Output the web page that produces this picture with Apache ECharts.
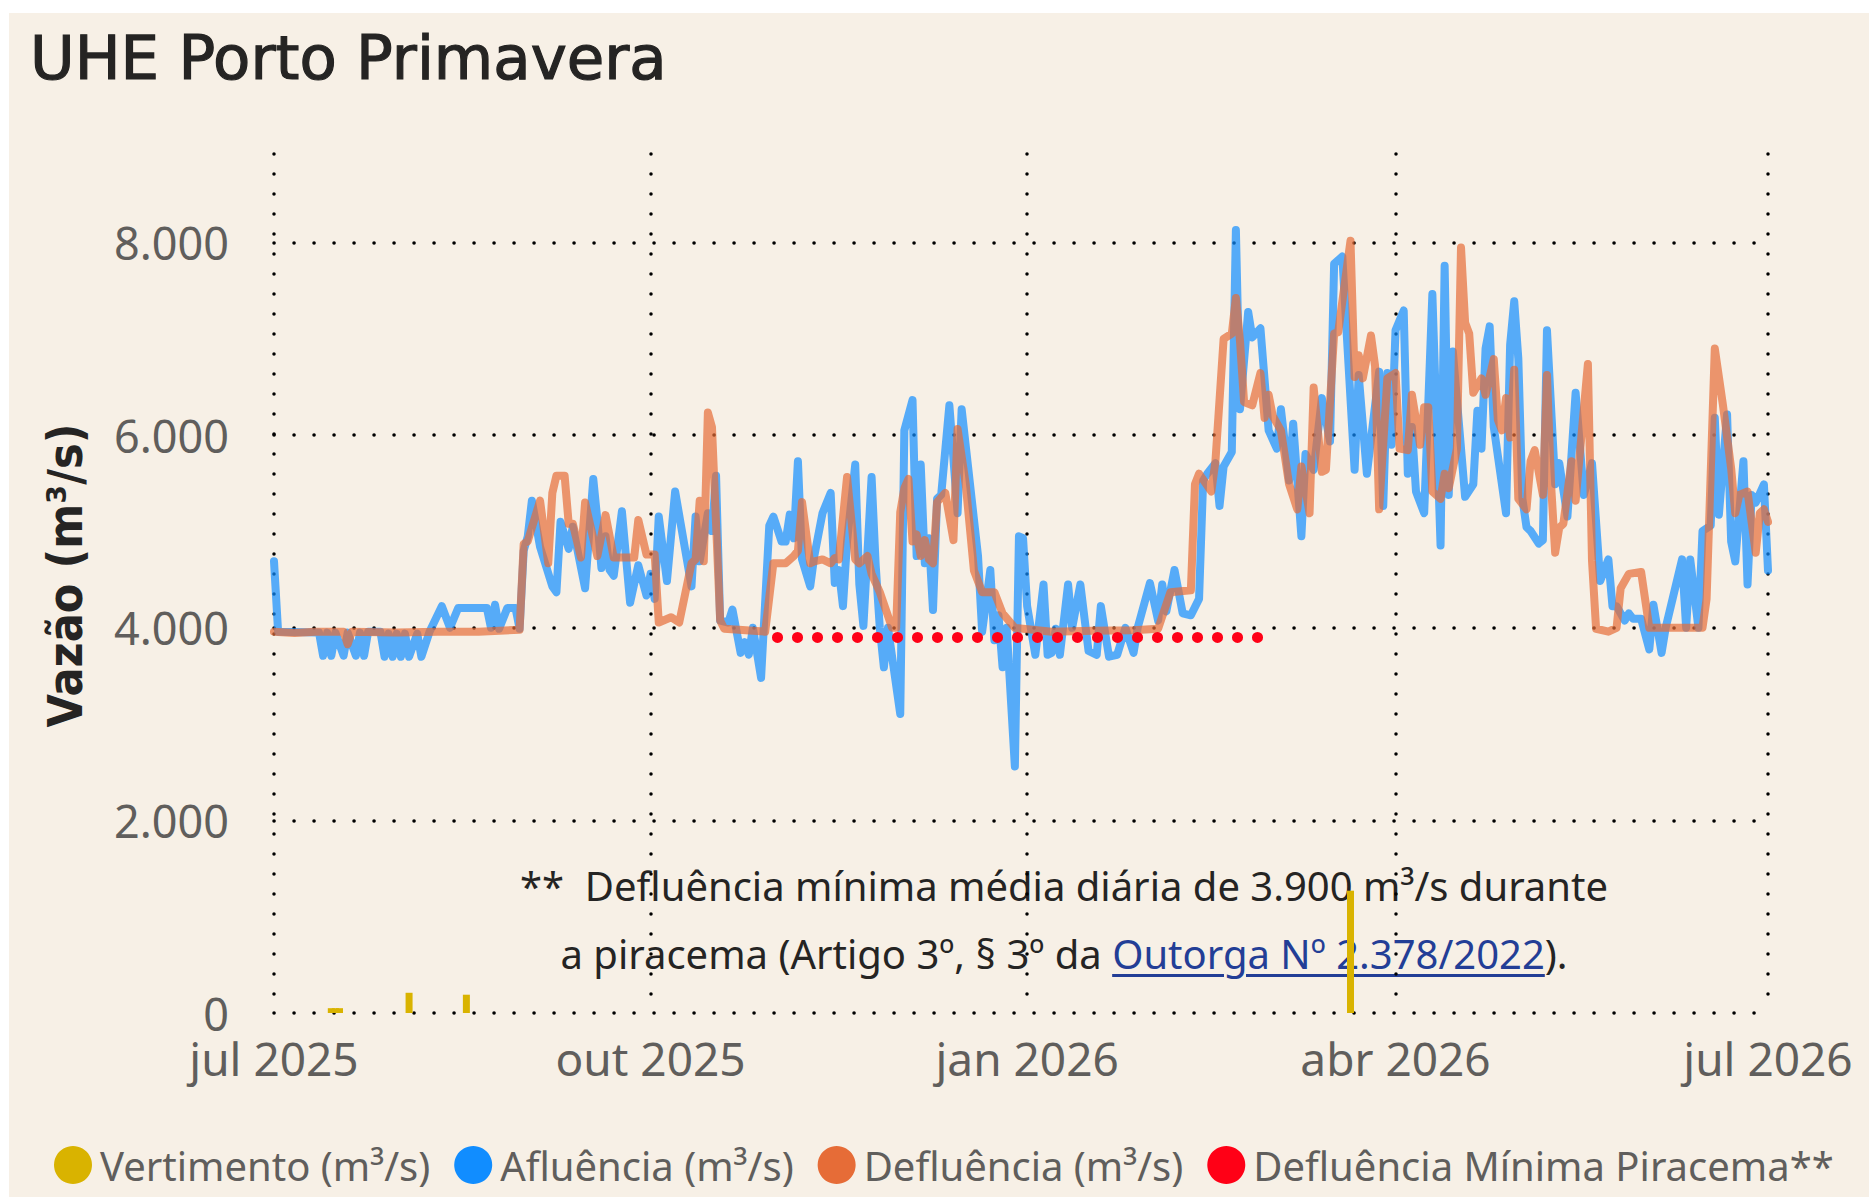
<!DOCTYPE html>
<html lang="pt-BR">
<head>
  <meta charset="utf-8">
  <title>UHE Porto Primavera</title>
  <script type="text/javascript" src="https://cdn.jsdelivr.net/npm/echarts@6/dist/echarts.min.js"></script>
  <style type="text/css">
    * {
      margin: 0;
      padding: 0;
    }
    html, body {
      width: 100%;
      height: 100%;
      overflow: hidden;
      background: #fff;
    }
    #painel {
      position: absolute;
      left: 9px;
      top: 13px;
      right: 0;
      bottom: 0;
      background: #F7F0E6;
    }
    /* nota da piracema: fica por baixo do gráfico, como no original */
    #nota {
      position: absolute;
      left: 0;
      width: 2128px;
      top: 852px;
      text-align: center;
      white-space: pre;
      font-family: 'Segoe UI', 'Noto Sans', sans-serif;
      font-size: 40px;
      line-height: 68px;
      color: #252423;
    }
    #nota a {
      color: #233E96;
      text-decoration: underline;
      text-decoration-thickness: 3px;
      text-underline-offset: 5px;
    }
    #grafico {
      position: absolute;
      left: 0;
      top: 0;
      width: 1869px;
      height: 1197px;
    }
  </style>
</head>
<body>
  <div id="painel"></div>
  <div id="nota">**  Defluência mínima média diária de 3.900 m³/s durante
a piracema (Artigo 3º, § 3º da <a>Outorga Nº 2.378/2022</a>).</div>
  <div id="grafico"></div>
  <script type="text/javascript">
    // dias contados a partir de 1 jul 2025
    var vertimentoDias = [14, 15, 16, 33, 47, 263];
    var vertimentoVals = [50, 50, 50, 210, 190, 1270];

    var afluenciaDias = [0, 1, 11, 12, 13, 14, 15, 17, 18, 20, 21, 22, 23, 26, 27, 28, 29, 30, 31, 32, 33, 35, 36, 38, 41, 43, 45, 52, 53, 54, 55, 57, 59, 60,
      61, 62, 63, 65, 68, 69, 70, 72, 73, 76, 78, 79, 80, 81, 82, 83, 85, 87, 89, 91, 92, 93, 94, 96, 98, 102, 103, 104, 106, 107, 108, 109, 111, 112,
      114, 115, 116, 117, 119, 121, 122, 124, 125, 126, 127, 128, 129, 131, 132, 134, 136, 137, 138, 139, 140, 142, 143, 144, 146, 147, 148, 149, 150,
      153, 154, 156, 157, 158, 159, 160, 161, 162, 163, 165, 167, 168, 172, 173, 175, 176, 177, 178, 179, 181, 182, 183, 184, 186, 188, 189, 190, 191,
      192, 194, 195, 197, 199, 201, 202, 204, 206, 208, 210, 211, 214, 216, 217, 218, 220, 222, 224, 226, 227, 228, 230, 231, 232, 234, 235, 236, 238,
      239, 241, 243, 245, 246, 248, 249, 251, 252, 254, 256, 258, 259, 261, 262, 264, 265, 267, 270, 271, 272, 273, 274, 276, 277, 278, 279, 281, 283,
      285, 286, 287, 288, 291, 293, 294, 295, 296, 297, 298, 301, 302, 303, 304, 305, 306, 307, 309, 310, 311, 313, 314, 316, 318, 320, 322, 324, 326,
      327, 328, 330, 331, 332, 334, 336, 337, 339, 340, 344, 345, 346, 348, 349, 351, 352, 353, 355, 356, 357, 359, 360, 361, 362, 364, 365];
    var afluenciaVals = [4690, 3960, 3950, 3710, 3950, 3710, 3950, 3710, 3950, 3710, 3950, 3710, 3960, 3960, 3700, 3940, 3700, 3940, 3700, 3940, 3700, 3940, 3700, 3960, 4225, 4000, 4205, 4205, 4000, 4240, 3990, 4205, 4205, 3990,
      4800, 4950, 5320, 4840, 4430, 4370, 5100, 4820, 5050, 4410, 5545, 5120, 4620, 4950, 4600, 4540, 5210, 4260, 4650, 4335, 4560, 4300, 5155, 4485, 5415, 4430, 5155, 4690, 5190, 5005, 5580, 4075, 4055, 4190,
      3740, 3850, 3720, 4000, 3480, 5060, 5155, 4895, 4895, 5175, 4930, 5730, 4710, 4430, 4745, 5190, 5400, 4465, 4600, 4225, 4895, 5695, 4450, 4020, 5565, 4650, 4000, 3590, 4000,
      3105, 6050, 6365, 4745, 5695, 4670, 4930, 4185, 5340, 5380, 6310, 5190, 6270, 4745, 3960, 4600, 3870, 4130, 3590, 4000, 2560, 4950, 4930, 4225, 3720, 4450, 3720, 3740, 3990,
      3720, 4450, 4000, 4450, 3760, 3720, 4225, 3700, 3720, 4000, 3740, 4000, 4465, 4075, 4450, 4170, 4600, 4150, 4130, 4300, 5530, 5600, 5710, 5265, 5675, 5825, 8130, 6270, 7280,
      7015, 7110, 6050, 5860, 6270, 5530, 6120, 4950, 5805, 5640, 6385, 5935, 7780, 7855, 7110, 5640, 6625, 5600, 6660, 5265, 6645, 5900, 7090, 7295, 5600, 6085, 5415, 5190, 7465,
      4855, 7760, 5380, 6870, 5360, 5490, 6255, 5860, 6900, 7130, 6085, 5190, 6940, 7390, 6795, 5340, 5045, 5005, 4875, 4910, 7090, 5490, 5710, 5155, 6440, 5380, 5710, 4485, 4710,
      4225, 4225, 4075, 4150, 4095, 4095, 3775, 4240, 3740, 4000, 4710, 4000, 4710, 4000, 5005, 5060, 6180, 5175, 6215, 4895, 4690, 5730, 4450, 5380, 5300, 5490, 4595];

    var defluenciaDias = [0, 5, 10, 17, 18, 19, 30, 40, 50, 60, 61, 62, 65, 67, 68, 69, 71, 72, 73, 75, 76, 79, 81, 83, 88, 89, 91, 93, 94, 97, 99, 102, 103, 104,
      105, 106, 107, 109, 110, 120, 122, 125, 127, 128, 129, 131, 132, 134, 136, 137, 138, 140, 142, 143, 145, 146, 148, 151, 152, 153, 154, 155, 156,
      157, 158, 159, 160, 161, 162, 164, 166, 167, 169, 171, 173, 176, 178, 181, 190, 200, 210, 216, 219, 224, 225, 226, 229, 230, 232, 234, 235, 236,
      237, 239, 241, 242, 243, 244, 246, 248, 250, 251, 253, 254, 256, 257, 259, 260, 263, 264, 265, 266, 268, 269, 270, 272, 274, 275, 277, 278, 280,
      281, 282, 283, 285, 286, 287, 289, 290, 291, 292, 293, 295, 296, 298, 299, 300, 301, 302, 303, 304, 306, 307, 308, 310, 311, 312, 313, 314, 315,
      317, 318, 321, 322, 323, 326, 328, 329, 331, 334, 336, 349, 350, 352, 354, 356, 357, 358, 360, 362, 363, 364, 365];
    var defluenciaVals = [3960, 3945, 3960, 3960, 3830, 3960, 3950, 3960, 3960, 3980, 4870, 4900, 5320, 4670, 5400, 5580, 5580, 5080, 5080, 4730, 5300, 4745, 5170, 4730, 4730, 5120, 4760, 4760, 4055, 4110, 4055, 4670, 4710, 5320,
      4690, 6235, 6085, 4075, 3990, 3960, 4670, 4670, 4745, 4800, 5305, 4670, 4690, 4710, 4670, 4725, 4710, 5565, 4710, 4670, 4745, 4560, 4370, 4000, 4000, 5200, 5450, 5545, 4895,
      4970, 4745, 4910, 4710, 4670, 5305, 5400, 4910, 6065, 5490, 4595, 4370, 4370, 4150, 4000, 3960, 3970, 3975, 3990, 4370, 4390, 5490, 5600, 5415, 5730, 7000, 7055, 7425, 6980,
      6345, 6310, 6645, 6180, 6420, 6200, 6050, 5490, 5230, 5675, 5190, 6495, 5620, 5640, 7055, 7070, 8020, 6605, 6830, 6590, 7035, 6720, 5230, 6590, 6645, 5860, 5845, 6420, 5900,
      6290, 6290, 5415, 5340, 5600, 5450, 5860, 7950, 7170, 7055, 6440, 6590, 6420, 6790, 6160, 6050, 6385, 5975, 6680, 5340, 5230, 5730, 5845, 5380, 6625, 5490, 4780, 5040, 5080,
      5730, 5320, 6740, 4700, 3990, 3960, 4000, 4410, 4560, 4580, 4000, 4000, 4300, 6900, 6310, 5655, 5190, 5380, 5415, 4780, 5190, 5230, 5100];

    // piracema: 1 nov 2025 a 28 fev 2026
    var piracemaDias = [123, 242];
    var piracemaVals = [3900, 3900];

    var ticksX = [Date.UTC(2025, 6, 1), Date.UTC(2025, 9, 1), Date.UTC(2026, 0, 1), Date.UTC(2026, 3, 1), Date.UTC(2026, 6, 1)];
    var ticksY = [0, 2000, 4000, 6000, 8000];
    var meses = ['jan', 'fev', 'mar', 'abr', 'mai', 'jun', 'jul', 'ago', 'set', 'out', 'nov', 'dez'];

    function serie(dias, vals) {
      return dias.map(function (d, i) {
        return [Date.UTC(2025, 6, 1 + d), vals[i]];
      });
    }
    function milhar(v) {
      return String(v).replace(/\B(?=(\d{3})+(?!\d))/g, '.');
    }

    var pontilhado = {
      color: '#000',
      width: 3.5,
      type: [0.1, 19.9],
      cap: 'round'
    };
    var fonte = "'Segoe UI', 'Noto Sans', sans-serif";

    var option = {
      animation: false,
      backgroundColor: 'transparent',
      title: {
        text: 'UHE Porto Primavera',
        left: 30,
        top: 27,
        padding: 0,
        textStyle: {
          fontFamily: 'DejaVu Sans',
          fontSize: 61,
          fontWeight: 'normal',
          color: '#252423',
          textBorderColor: '#252423',
          textBorderWidth: 1.2
        }
      },
      legend: {
        left: 49,
        top: 1140,
        icon: 'circle',
        itemWidth: 38,
        itemHeight: 38,
        itemGap: 24,
        textStyle: {
          fontFamily: fonte,
          fontSize: 40,
          color: '#605E5C',
          padding: [0, 0, 0, 3]
        }
      },
      grid: {
        left: 274,
        right: 101,
        top: 154,
        bottom: 184
      },
      // eixo de datas em milissegundos (UTC), marcas trimestrais
      xAxis: {
        type: 'value',
        min: ticksX[0],
        max: ticksX[ticksX.length - 1],
        axisLine: { show: false },
        axisTick: { show: false, customValues: ticksX },
        axisLabel: {
          customValues: ticksX,
          margin: 22,
          fontFamily: fonte,
          fontSize: 46,
          color: '#605E5C',
          formatter: function (v) {
            var d = new Date(v);
            return meses[d.getUTCMonth()] + ' ' + d.getUTCFullYear();
          }
        },
        splitLine: { show: true, lineStyle: pontilhado }
      },
      yAxis: {
        type: 'value',
        min: 0,
        max: 8920,
        name: 'Vazão (m³/s)',
        nameLocation: 'middle',
        nameGap: 185,
        nameTextStyle: {
          fontFamily: 'DejaVu Sans Condensed',
          fontWeight: 'bold',
          fontSize: 48,
          color: '#252423',
          padding: [0, 0, 0, 16]
        },
        axisLine: { show: false },
        axisTick: { show: false, customValues: ticksY },
        axisLabel: {
          customValues: ticksY,
          margin: 45,
          fontFamily: fonte,
          fontSize: 45,
          color: '#605E5C',
          formatter: milhar
        },
        splitLine: { show: true, lineStyle: pontilhado }
      },
      series: [
        {
          name: 'Vertimento (m³/s)',
          type: 'bar',
          barWidth: 7,
          itemStyle: { color: '#D9B300' },
          data: serie(vertimentoDias, vertimentoVals)
        },
        {
          name: 'Afluência (m³/s)',
          type: 'line',
          showSymbol: false,
          itemStyle: { color: '#118DFF' },
          lineStyle: { width: 8, opacity: 0.7, join: 'round', cap: 'round' },
          data: serie(afluenciaDias, afluenciaVals)
        },
        {
          name: 'Defluência (m³/s)',
          type: 'line',
          showSymbol: false,
          itemStyle: { color: '#E66C37' },
          lineStyle: { width: 8, opacity: 0.7, join: 'round', cap: 'round' },
          data: serie(defluenciaDias, defluenciaVals)
        },
        {
          name: 'Defluência Mínima Piracema**',
          type: 'line',
          showSymbol: false,
          itemStyle: { color: '#FF0016' },
          lineStyle: { width: 11, type: [0.1, 19.9], cap: 'round' },
          data: serie(piracemaDias, piracemaVals)
        }
      ]
    };

    var chart = echarts.init(document.getElementById('grafico'), null, { renderer: 'svg' });
    chart.setOption(option);
  </script>
</body>
</html>
